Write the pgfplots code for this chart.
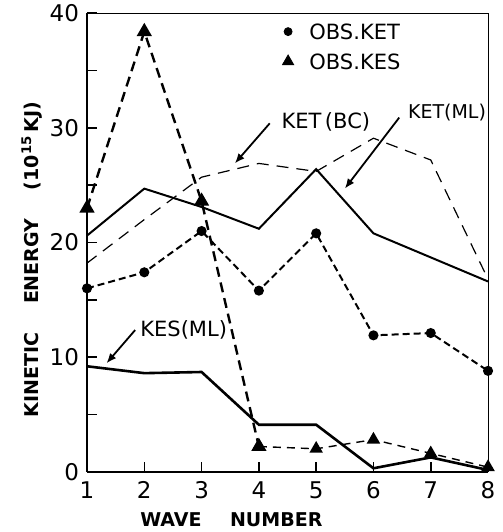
\documentclass[border=0pt]{standalone}
\usepackage{pgfplots}
\pgfplotsset{compat=1.18}
\usepackage{fontspec}
\setmainfont{DejaVu Sans}
\usetikzlibrary{arrows.meta}
\tikzset{lbl/.style={inner sep=0pt, font=\fontsize{10.5}{12}\selectfont}}

\begin{document}
\begin{tikzpicture}
\begin{axis}[
  scale only axis, width=200.5pt, height=229.2pt,
  xmin=1, xmax=8, ymin=0, ymax=40,
  clip=false,
  axis x line*=bottom, axis y line*=left,
  axis line style={line width=0.9pt},
  xtick={1,...,8},
  ytick={0,10,20,30,40},
  minor ytick={5,15,25,35},
  tick align=inside,
  major tick length=5pt, minor tick length=5pt,
  tick style={black, line width=0.8pt},
  /pgf/number format/assume math mode=true,
  ticklabel style={font=\fontsize{11.5}{13}\selectfont},
  xticklabel style={yshift=-1.5pt},
  yticklabel style={xshift=-0.5pt},
  xlabel={WAVE\hspace{1.5em}NUMBER},
  ylabel={KINETIC\hspace{1.5em}ENERGY\hspace{1.5em}(10\textsuperscript{15}\,KJ)},
  xlabel style={font=\bfseries\fontsize{9.5}{11}\selectfont, at={(rel axis cs:0.36,-0.105)}, anchor=center},
  ylabel style={font=\bfseries\fontsize{9.5}{11}\selectfont, at={(rel axis cs:-0.137,0.463)}, anchor=center},
]
% thin top and right frame
\draw[line width=0.5pt] (rel axis cs:0,1) -- (rel axis cs:1,1) -- (rel axis cs:1,0);

% KET(BC)
\addplot[black, line width=0.6pt, dash pattern=on 6pt off 4pt]
  coordinates {(1,18.2) (2,22.0) (3,25.7) (4,26.9) (5,26.2) (6,29.1) (7,27.2) (8,16.8)};
% KET(ML)
\addplot[black, line width=1pt]
  coordinates {(1,20.6) (2,24.7) (3,23.1) (4,21.2) (5,26.4) (6,20.8) (7,18.7) (8,16.6)};
% KES(ML)
\addplot[black, line width=1.3pt]
  coordinates {(1,9.2) (2,8.6) (3,8.7) (4,4.1) (5,4.1) (6,0.3) (7,1.25) (8,0.15)};
% OBS.KET
\addplot[black, line width=1pt, dash pattern=on 3.5pt off 2pt, mark=*, mark size=2pt, mark options={solid}]
  coordinates {(1,16.0) (2,17.4) (3,21.0) (4,15.8) (5,20.8) (6,11.9) (7,12.1) (8,8.8)};
% OBS.KES
\addplot[black, line width=1.2pt, dash pattern=on 5pt off 3pt, mark=triangle*, mark size=3.2pt, mark options={solid}]
  coordinates {(1,23.0) (2,38.4) (3,23.6) (4,2.2)};
\addplot[black, line width=0.7pt, dash pattern=on 4pt off 3pt, mark=triangle*, mark size=3.2pt, mark options={solid}]
  coordinates {(4,2.2) (5,2.0) (6,2.8) (7,1.6) (8,0.4)};

% key
\addplot[black, only marks, mark=*, mark size=2pt] coordinates {(4.51,38.4)};
\addplot[black, only marks, mark=triangle*, mark size=3.2pt] coordinates {(4.51,35.8)};
\node[lbl, anchor=west] at (axis cs:4.875,38.4) {OBS.KET};
\node[lbl, anchor=west] at (axis cs:4.875,35.8) {OBS.KES};

% annotations
\node[lbl, anchor=west] at (axis cs:4.39,30.5) {KET\,(BC)};
\draw[line width=0.9pt, -{Latex[length=5pt,width=4pt]}] (axis cs:4.19,30.4) -- (axis cs:3.58,26.9);
\node[lbl, anchor=east, font=\fontsize{9.5}{11}\selectfont] at (axis cs:7.97,31.3) {KET(ML)};
\draw[line width=0.9pt, -{Latex[length=5pt,width=4pt]}] (axis cs:6.45,30.9) -- (axis cs:5.50,24.7);
\node[lbl, anchor=west] at (axis cs:1.925,12.36) {KES(ML)};
\draw[line width=0.9pt, -{Latex[length=5pt,width=4pt]}] (axis cs:1.84,12.36) -- (axis cs:1.34,9.46);

\coordinate (bl) at (rel axis cs:-0.217,-0.1315);
\coordinate (tr) at (rel axis cs:1.037,1.029);
\end{axis}
\pgfresetboundingbox
\path[use as bounding box] (bl) rectangle (tr);
\end{tikzpicture}
\end{document}
